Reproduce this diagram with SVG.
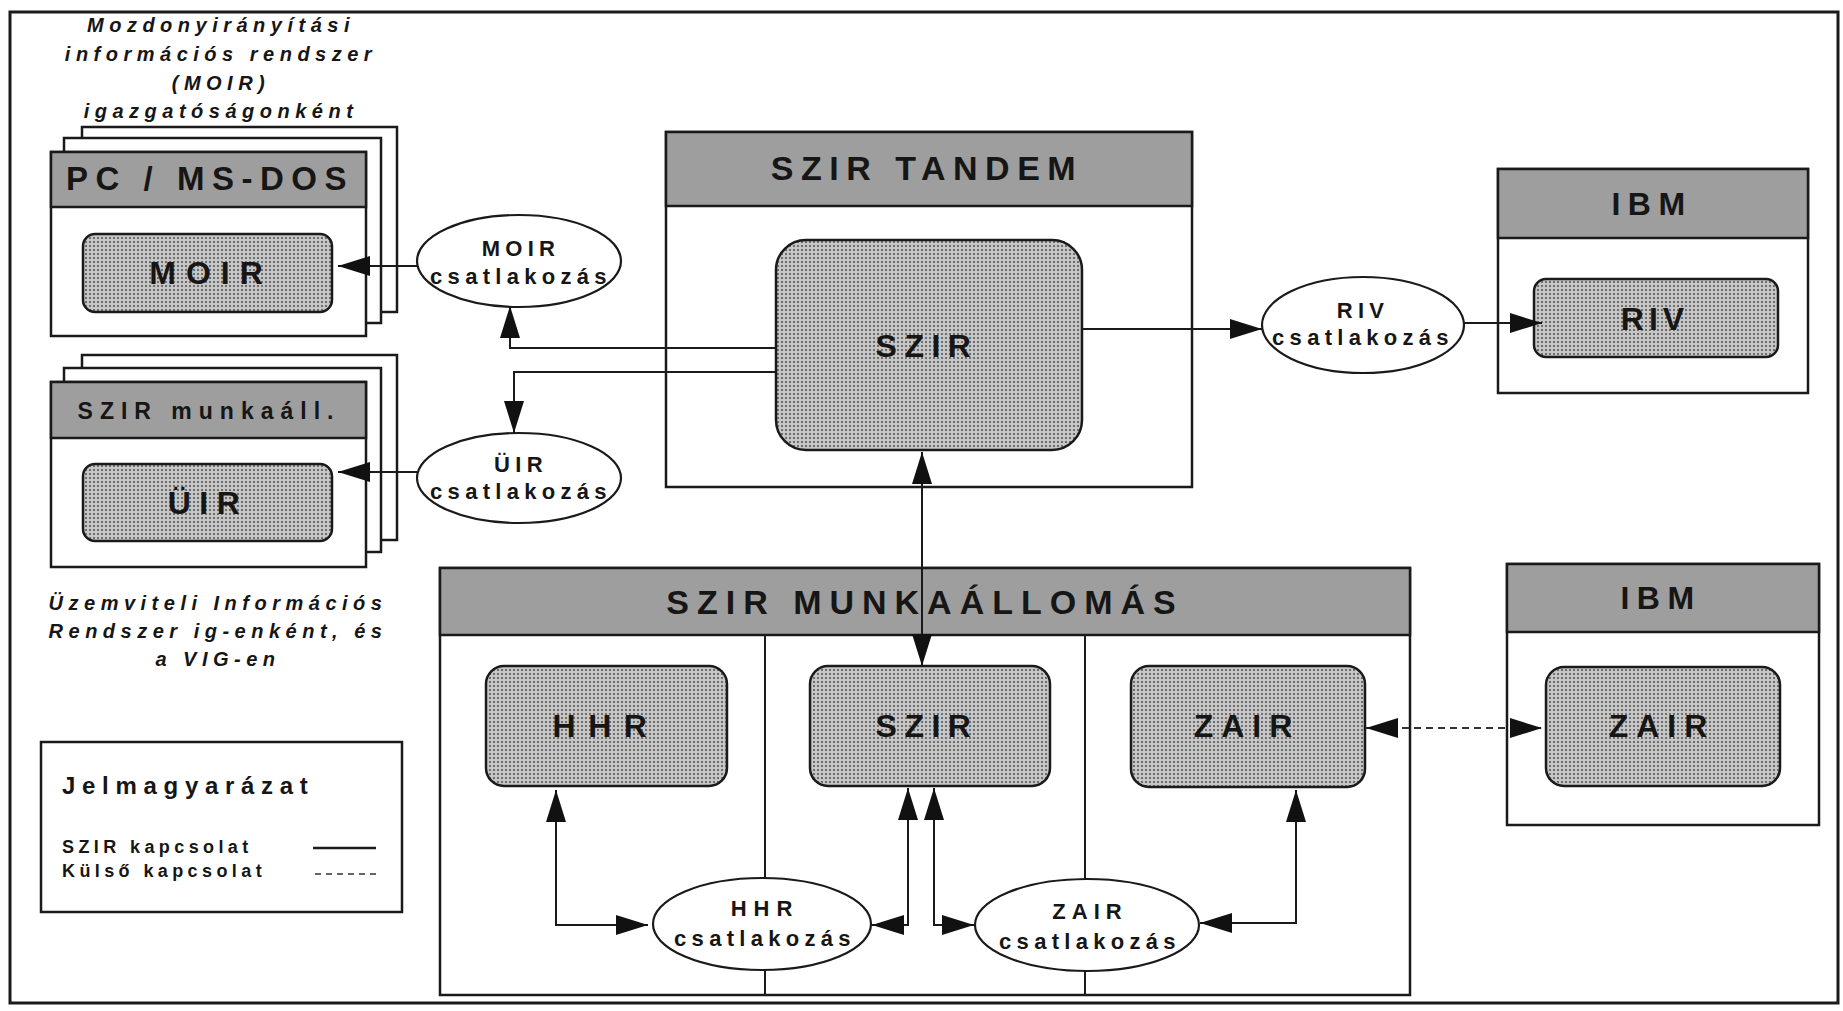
<svg xmlns="http://www.w3.org/2000/svg" width="1843" height="1011" viewBox="0 0 1843 1011">
<style>
  text { font-family: "Liberation Sans", Arial, sans-serif; font-weight: bold; fill: #161616; }
  .frame { fill: #fff; stroke: #1a1a1a; stroke-width: 2.5; }
  .hdr { fill: #9e9e9e; stroke: #1a1a1a; stroke-width: 2.5; }
  .inner { fill: url(#dots); stroke: #1a1a1a; stroke-width: 2.5; }
  .ell { fill: #fff; stroke: #1a1a1a; stroke-width: 2.2; }
  .conn { fill: none; stroke: #1a1a1a; stroke-width: 2; }
  .dash { fill: none; stroke: #333; stroke-width: 1.8; stroke-dasharray: 7 5; }
  .t-hdr { font-size: 34px; text-anchor: middle; letter-spacing: 7.5px; }
  .t-big { font-size: 32px; text-anchor: middle; letter-spacing: 7.5px; }
  .t-ell { font-size: 22px; text-anchor: middle; letter-spacing: 5.3px; }
  .t-cap { font-size: 20px; font-style: italic; text-anchor: middle; letter-spacing: 5.5px; }
  .t-leg { font-size: 18px; letter-spacing: 4.4px; }
</style>
<defs>
  <pattern id="dots" width="4" height="4" patternUnits="userSpaceOnUse">
    <rect width="4" height="4" fill="#c6c6c6"/>
    <rect x="1" y="1" width="2" height="2" fill="#6e6e6e"/>
  </pattern>
  <marker id="arr" viewBox="0 0 32 20" refX="32" refY="10" markerWidth="32" markerHeight="20" markerUnits="userSpaceOnUse" orient="auto-start-reverse">
    <path d="M0,0 L32,10 L0,20 Z" fill="#111"/>
  </marker>
</defs>

<rect id="outer-frame" x="10" y="12" width="1828" height="991" fill="none" stroke="#1a1a1a" stroke-width="3"/>

<g id="moir-caption">
  <text class="t-cap" x="221" y="32">Mozdonyirányítási</text>
  <text class="t-cap" x="221" y="61">információs rendszer</text>
  <text class="t-cap" x="221" y="90">(MOIR)</text>
  <text class="t-cap" x="221" y="118">igazgatóságonként</text>
</g>

<g id="pc-msdos">
  <rect class="frame" x="82" y="127" width="315" height="185"/>
  <rect class="frame" x="64" y="138" width="317" height="185"/>
  <rect class="frame" x="51" y="152" width="315" height="184"/>
  <rect class="hdr" x="51" y="152" width="315" height="55"/>
  <text class="t-hdr" x="210" y="190" style="font-size:33px">PC / MS-DOS</text>
</g>
<g id="moir-box">
  <rect class="inner" x="83" y="234" width="249" height="78" rx="12"/>
  <text class="t-big" x="211" y="284" style="letter-spacing:10px">MOIR</text>
</g>

<g id="szir-munkaall">
  <rect class="frame" x="82" y="355" width="315" height="185"/>
  <rect class="frame" x="64" y="368" width="317" height="184"/>
  <rect class="frame" x="51" y="382" width="315" height="185"/>
  <rect class="hdr" x="51" y="382" width="315" height="56"/>
  <text class="t-hdr" x="209" y="419" style="font-size:23px;letter-spacing:7px">SZIR munkaáll.</text>
</g>
<g id="uir-box">
  <rect class="inner" x="83" y="464" width="249" height="77" rx="12"/>
  <text class="t-big" x="208" y="514" style="letter-spacing:8.5px">ÜIR</text>
</g>

<g id="uir-caption">
  <text class="t-cap" x="218" y="610">Üzemviteli Információs</text>
  <text class="t-cap" x="218" y="638">Rendszer ig-enként, és</text>
  <text class="t-cap" x="218" y="666">a VIG-en</text>
</g>

<g id="legend">
  <rect class="frame" x="41" y="742" width="361" height="170"/>
  <text x="62" y="794" style="font-size:24px;letter-spacing:6.7px">Jelmagyarázat</text>
  <text class="t-leg" x="62" y="853">SZIR kapcsolat</text>
  <text class="t-leg" x="62" y="877">Külső kapcsolat</text>
  <line x1="313" y1="848" x2="376" y2="848" stroke="#1a1a1a" stroke-width="2.5"/>
  <line x1="315" y1="874" x2="379" y2="874" stroke="#333" stroke-width="1.5" stroke-dasharray="6 5"/>
</g>

<g id="moir-csatlakozas">
  <ellipse class="ell" cx="519" cy="261" rx="102" ry="46"/>
  <text class="t-ell" x="521" y="256">MOIR</text>
  <text class="t-ell" x="521" y="284">csatlakozás</text>
</g>
<g id="uir-csatlakozas">
  <ellipse class="ell" cx="519" cy="478" rx="102" ry="45"/>
  <text class="t-ell" x="521" y="472">ÜIR</text>
  <text class="t-ell" x="521" y="499">csatlakozás</text>
</g>

<g id="szir-tandem">
  <rect class="frame" x="666" y="132" width="526" height="355"/>
  <rect class="hdr" x="666" y="132" width="526" height="74"/>
  <text class="t-hdr" x="927" y="180">SZIR TANDEM</text>
</g>
<g id="szir-tandem-szir">
  <rect class="inner" x="776" y="240" width="306" height="210" rx="30"/>
  <text class="t-big" x="927" y="357">SZIR</text>
</g>

<g id="riv-csatlakozas">
  <ellipse class="ell" cx="1363" cy="325" rx="101" ry="48"/>
  <text class="t-ell" x="1363" y="318">RIV</text>
  <text class="t-ell" x="1363" y="345">csatlakozás</text>
</g>

<g id="ibm-riv">
  <rect class="frame" x="1498" y="169" width="310" height="224"/>
  <rect class="hdr" x="1498" y="169" width="310" height="69"/>
  <text class="t-big" x="1652" y="215">IBM</text>
</g>
<g id="riv-box">
  <rect class="inner" x="1534" y="279" width="244" height="78" rx="12"/>
  <text class="t-big" x="1655" y="330" style="letter-spacing:5px">RIV</text>
</g>

<g id="szir-munkaallomas">
  <rect class="frame" x="440" y="568" width="970" height="427"/>
  <rect class="hdr" x="440" y="568" width="970" height="67"/>
  <line x1="765" y1="635" x2="765" y2="995" stroke="#1a1a1a" stroke-width="2"/>
  <line x1="1085" y1="635" x2="1085" y2="995" stroke="#1a1a1a" stroke-width="2"/>
  <text class="t-hdr" x="925" y="614" style="letter-spacing:8px">SZIR MUNKAÁLLOMÁS</text>
</g>
<g id="hhr-box">
  <rect class="inner" x="486" y="666" width="241" height="120" rx="18"/>
  <text class="t-big" x="606" y="737" style="letter-spacing:12.5px">HHR</text>
</g>
<g id="szir-ws-box">
  <rect class="inner" x="810" y="666" width="240" height="120" rx="18"/>
  <text class="t-big" x="927" y="737">SZIR</text>
</g>
<g id="zair-ws-box">
  <rect class="inner" x="1131" y="666" width="234" height="121" rx="18"/>
  <text class="t-big" x="1247" y="737" style="letter-spacing:8px">ZAIR</text>
</g>
<g id="hhr-csatlakozas">
  <ellipse class="ell" cx="762" cy="924" rx="109" ry="46"/>
  <text class="t-ell" x="765" y="916" style="letter-spacing:7px">HHR</text>
  <text class="t-ell" x="765" y="946">csatlakozás</text>
</g>
<g id="zair-csatlakozas">
  <ellipse class="ell" cx="1087" cy="925" rx="112" ry="46"/>
  <text class="t-ell" x="1090" y="919" style="letter-spacing:6px">ZAIR</text>
  <text class="t-ell" x="1090" y="949">csatlakozás</text>
</g>

<g id="ibm-zair">
  <rect class="frame" x="1507" y="564" width="312" height="261"/>
  <rect class="hdr" x="1507" y="564" width="312" height="68"/>
  <text class="t-big" x="1661" y="609">IBM</text>
</g>
<g id="zair-ibm-box">
  <rect class="inner" x="1546" y="667" width="234" height="119" rx="18"/>
  <text class="t-big" x="1662" y="737" style="letter-spacing:8px">ZAIR</text>
</g>

<g id="connectors">
  <path class="conn" d="M776,348 H510 V306" marker-end="url(#arr)"/>
  <path class="conn" d="M776,372 H514 V433" marker-end="url(#arr)"/>
  <path class="conn" d="M417,266 H338" marker-end="url(#arr)"/>
  <path class="conn" d="M417,472 H338" marker-end="url(#arr)"/>
  <path class="conn" d="M1082,329 H1262" marker-end="url(#arr)"/>
  <path class="conn" d="M1464,323 H1542" marker-end="url(#arr)"/>
  <path class="conn" d="M922,452 V666" marker-start="url(#arr)" marker-end="url(#arr)"/>
  <path class="conn" d="M556,790 V925 H648" marker-start="url(#arr)" marker-end="url(#arr)"/>
  <path class="conn" d="M908,788 V925 H872" marker-start="url(#arr)" marker-end="url(#arr)"/>
  <path class="conn" d="M934,788 V925 H974" marker-start="url(#arr)" marker-end="url(#arr)"/>
  <path class="conn" d="M1296,790 V923 H1200" marker-start="url(#arr)" marker-end="url(#arr)"/>
  <path class="dash" d="M1366,728 H1542" marker-start="url(#arr)" marker-end="url(#arr)"/>
</g>
</svg>
